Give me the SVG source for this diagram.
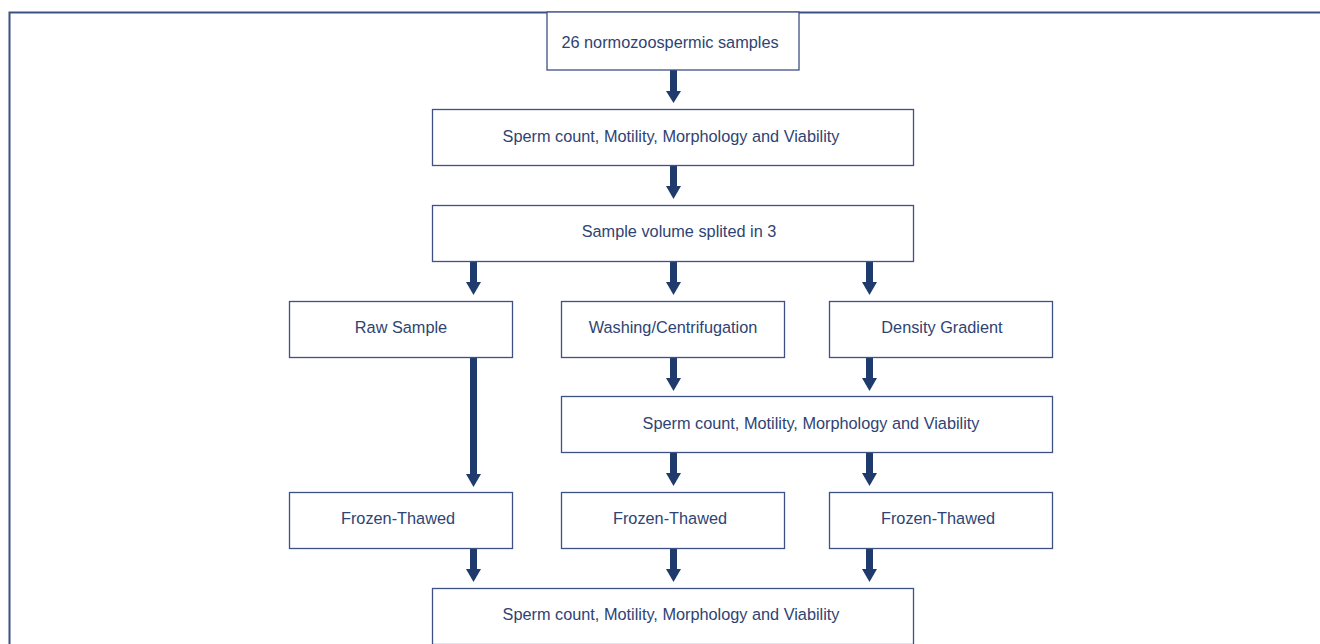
<svg xmlns="http://www.w3.org/2000/svg" width="1320" height="644" viewBox="0 0 1320 644">
<style>
.box{fill:#fff;stroke:#3d5185;stroke-width:1.3}
.t{font-family:"Liberation Sans",Arial,sans-serif;font-size:16.3px;fill:#2f4373;text-anchor:middle}
.a{fill:#1f3b6e}
</style>
<rect width="1320" height="644" fill="#fff"/>
<path d="M9.5,650 V12.5 H1330" fill="none" stroke="#3d5185" stroke-width="2"/>
<g id="connectors" class="a">
<rect x="670" y="70" width="7" height="22"/><path d="M666,91 H681 L673.5,103 Z"/>
<rect x="670" y="165" width="7" height="22"/><path d="M666,186 H681 L673.5,199 Z"/>
<rect x="470" y="261" width="7" height="22"/><path d="M466,282 H481 L473.5,295 Z"/>
<rect x="670" y="261" width="7" height="22"/><path d="M666,282 H681 L673.5,295 Z"/>
<rect x="866" y="261" width="7" height="22"/><path d="M862,282 H877 L869.5,295 Z"/>
<rect x="470" y="357" width="7" height="118"/><path d="M466,474 H481 L473.5,487 Z"/>
<rect x="670" y="357" width="7" height="22"/><path d="M666,378 H681 L673.5,391 Z"/>
<rect x="866" y="357" width="7" height="22"/><path d="M862,378 H877 L869.5,391 Z"/>
<rect x="670" y="452" width="7" height="22"/><path d="M666,473 H681 L673.5,486 Z"/>
<rect x="866" y="452" width="7" height="22"/><path d="M862,473 H877 L869.5,486 Z"/>
<rect x="470" y="548" width="7" height="22"/><path d="M466,569 H481 L473.5,582 Z"/>
<rect x="670" y="548" width="7" height="22"/><path d="M666,569 H681 L673.5,582 Z"/>
<rect x="866" y="548" width="7" height="22"/><path d="M862,569 H877 L869.5,582 Z"/>
</g>
<g id="n1"><rect class="box" x="547" y="12" width="252" height="58"/><text class="t" x="670" y="48">26 normozoospermic samples</text></g>
<g id="n2"><rect class="box" x="432.5" y="109.5" width="481" height="56"/><text class="t" x="671" y="142">Sperm count, Motility, Morphology and Viability</text></g>
<g id="n3"><rect class="box" x="432.5" y="205.5" width="481" height="56"/><text class="t" x="679" y="237">Sample volume splited in 3</text></g>
<g id="n4"><rect class="box" x="289.5" y="301.5" width="223" height="56"/><text class="t" x="401" y="333">Raw Sample</text></g>
<g id="n5"><rect class="box" x="561.5" y="301.5" width="223" height="56"/><text class="t" x="673" y="333">Washing/Centrifugation</text></g>
<g id="n6"><rect class="box" x="829.5" y="301.5" width="223" height="56"/><text class="t" x="942" y="333">Density Gradient</text></g>
<g id="n7"><rect class="box" x="561.5" y="396.5" width="491" height="56"/><text class="t" x="811" y="429">Sperm count, Motility, Morphology and Viability</text></g>
<g id="n8"><rect class="box" x="289.5" y="492.5" width="223" height="56"/><text class="t" x="398" y="524">Frozen-Thawed</text></g>
<g id="n9"><rect class="box" x="561.5" y="492.5" width="223" height="56"/><text class="t" x="670" y="524">Frozen-Thawed</text></g>
<g id="n10"><rect class="box" x="829.5" y="492.5" width="223" height="56"/><text class="t" x="938" y="524">Frozen-Thawed</text></g>
<g id="n11"><rect class="box" x="432.5" y="588.5" width="481" height="56"/><text class="t" x="671" y="620">Sperm count, Motility, Morphology and Viability</text></g>
</svg>
